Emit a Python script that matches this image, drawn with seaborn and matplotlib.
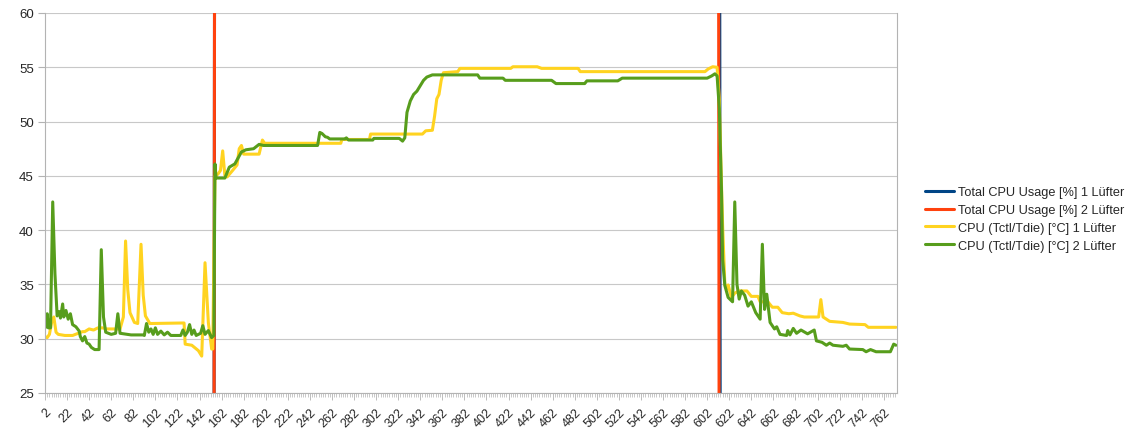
import matplotlib
matplotlib.use("Agg")
import matplotlib.pyplot as plt
import seaborn as sns
import numpy as np

usage1_x = [2, 155, 156, 613, 614, 773]
usage1_y = [3, 3, 100, 100, 3, 3]
usage2_x = [2, 155, 156, 612, 613, 773]
usage2_y = [3, 3, 100, 100, 3, 3]

temp1_x = [2, 4, 6, 8, 10, 12, 14, 20, 27, 36, 38, 42, 46, 50, 54, 58, 70, 73, 75, 77,
           79, 83, 86, 89, 91, 93, 97, 128, 129, 135, 141, 144, 147, 150, 153, 154,
           156, 157, 159, 161, 163, 165, 167, 172, 176, 178, 180, 182, 196, 199, 201,
           270, 271, 296, 297, 344, 347, 353, 355, 357, 359, 361, 363, 376, 377, 378,
           424, 426, 448, 452, 485, 487, 600, 603, 607, 611, 613, 615, 616, 618, 620,
           621, 624, 627, 631, 638, 642, 648, 650, 657, 661, 666, 670, 676, 680, 686,
           690, 703, 705, 707, 713, 725, 731, 745, 748, 773]
temp1_y = [30.2, 30.1, 30.4, 31.5, 32.0, 30.6, 30.4, 30.3, 30.3, 30.65, 30.65, 30.9, 30.8,
           31.0, 31.0, 30.9, 30.9, 32.0, 39.0, 34.5, 32.4, 31.5, 31.4, 38.7, 34.0, 32.1,
           31.4, 31.45, 29.5, 29.4, 28.9, 28.4, 37.0, 31.5, 29.05, 29.05,
           45.0, 45.0, 45.2, 45.5, 47.3, 45.0, 44.9, 45.5, 46.0, 47.5, 47.8, 47.0, 47.0,
           48.3, 48.0, 48.0, 48.35, 48.35, 48.85, 48.85, 49.15, 49.2, 50.5, 52.1, 52.5,
           53.8, 54.5, 54.6, 54.75, 54.9, 54.9, 55.05, 55.05, 54.9, 54.9, 54.6, 54.6,
           54.85, 55.05, 55.0, 52.0, 44.0, 40.4, 35.0, 34.6, 34.95, 33.8, 34.2, 34.4,
           34.4, 33.9, 33.9, 33.4, 33.4, 32.9, 32.9, 32.4, 32.3, 32.35, 32.1, 32.0, 32.0,
           33.6, 32.0, 31.6, 31.5, 31.35, 31.3, 31.05, 31.05]

temp2_x = [2, 3, 4, 5, 7, 9, 11, 13, 15, 16, 18, 19, 21, 23, 25, 27, 30, 33, 34, 36, 38,
           40, 42, 44, 47, 51, 53, 55, 57, 62, 66, 68, 70, 80, 91, 92, 94, 96, 98, 100,
           102, 104, 107, 110, 113, 116, 125, 127, 129, 131, 133, 135, 137, 139, 143,
           145, 147, 150, 153, 155, 156, 157, 165, 169, 174, 180, 184, 191, 196, 200,
           249, 251, 253, 256, 258, 260, 274, 275, 277, 299, 300, 323, 326, 328, 330,
           333, 336, 339, 342, 345, 348, 353, 394, 396, 417, 419, 461, 465, 491, 493,
           521, 525, 602, 606, 609, 611, 613, 615, 616, 618, 621, 625, 627, 629, 631,
           633, 636, 639, 642, 646, 650, 652, 654, 656, 659, 663, 665, 668, 674, 675,
           677, 680, 683, 687, 693, 699, 701, 706, 710, 713, 716, 725, 728, 731, 743,
           746, 750, 755, 768, 771, 773]
temp2_y = [31.0, 31.1, 32.3, 31.0, 31.0, 42.6, 36.0, 32.1, 32.5, 31.9, 33.2, 32.0, 32.6,
           31.8, 32.3, 31.3, 31.1, 30.7, 30.2, 29.8, 30.2, 29.6, 29.5, 29.2, 29.0, 29.0,
           38.2, 32.0, 30.6, 30.4, 30.5, 32.3, 30.5, 30.35, 30.35, 30.3, 31.4, 30.6,
           30.9, 30.4, 31.0, 30.4, 30.7, 30.35, 30.6, 30.3, 30.3, 30.8, 30.3, 30.6, 31.3,
           30.4, 30.8, 30.3, 30.5, 31.2, 30.4, 30.75, 30.1, 30.3, 46.1, 44.8, 44.8,
           45.8, 46.1, 47.2, 47.4, 47.5, 47.9, 47.8, 47.8, 49.0, 48.9, 48.6, 48.55,
           48.4, 48.4, 48.5, 48.3, 48.3, 48.45, 48.45, 48.2, 48.5, 50.85, 51.9, 52.5,
           52.8, 53.3, 53.8, 54.1, 54.3, 54.3, 54.0, 54.0, 53.8, 53.8, 53.5, 53.5, 53.75,
           53.75, 54.0, 54.0, 54.2, 54.4, 54.2, 51.2, 43.5, 37.3, 34.9, 33.8, 33.4, 42.6,
           35.0, 33.65, 34.4, 34.0, 33.0, 33.4, 32.4, 31.8, 38.7, 32.7, 34.1, 31.5, 30.9,
           31.1, 30.4, 30.3, 30.75, 30.35, 30.95, 30.5, 30.8, 30.45, 30.8, 29.8, 29.67,
           29.4, 29.6, 29.4, 29.3, 29.4, 29.05, 29.0, 28.8, 29.0, 28.8, 28.8, 29.5, 29.4]

labels = ["Total CPU Usage [%] 1 Lüfter", "Total CPU Usage [%] 2 Lüfter",
          "CPU (Tctl/Tdie) [°C] 1 Lüfter", "CPU (Tctl/Tdie) [°C] 2 Lüfter"]
farben = ["#004586", "#ff420e", "#ffd320", "#579d1c"]

sns.set_theme(style="white")
plt.rcParams["font.family"] = ["Liberation Sans", "DejaVu Sans"]

fig = plt.figure(figsize=(11.38, 4.39), dpi=100)
ax = fig.add_axes([45 / 1138, 45 / 439, 852 / 1138, 380 / 439])

serien = [(usage1_x, usage1_y), (usage2_x, usage2_y), (temp1_x, temp1_y), (temp2_x, temp2_y)]
for (xs, ys), lab, col in zip(serien, labels, farben):
    sns.lineplot(x=xs, y=ys, ax=ax, color=col, label=lab, linewidth=2.2, legend=False)

ax.set_xlim(2, 774)
ax.set_ylim(25, 60)
ax.set_yticks(range(25, 61, 5))
ax.set_xticks(range(2, 773, 20))
ax.set_xticks(range(2, 774, 2), minor=True)
ax.set_xticklabels([str(v) for v in range(2, 773, 20)], rotation=45, ha="right",
                   va="top", rotation_mode="anchor", fontsize=9)
ax.tick_params(axis="y", labelsize=9.5, length=5, width=0.8, color="#b3b3b3",
               left=True, pad=3)
ax.tick_params(axis="x", which="major", length=5, width=0.6, color="#b3b3b3",
               bottom=True, pad=4)
ax.tick_params(axis="x", which="minor", length=3, width=0.5, color="#b3b3b3", bottom=True)
ax.yaxis.grid(True, color="#c8c8c8", linewidth=0.8)
ax.xaxis.grid(False)
for s in ax.spines.values():
    s.set_color("#b3b3b3")
    s.set_linewidth(0.8)
ax.spines["top"].set_visible(False)

handles, _ = ax.get_legend_handles_labels()
fig.legend(handles, labels, loc="center left", bbox_to_anchor=(925 / 1138, 1 - 220 / 439),
           frameon=False, fontsize=9.2, handlelength=2.3, handletextpad=0.3,
           labelspacing=0.45, borderpad=0, borderaxespad=0)

fig.savefig("out.png", dpi=100)
